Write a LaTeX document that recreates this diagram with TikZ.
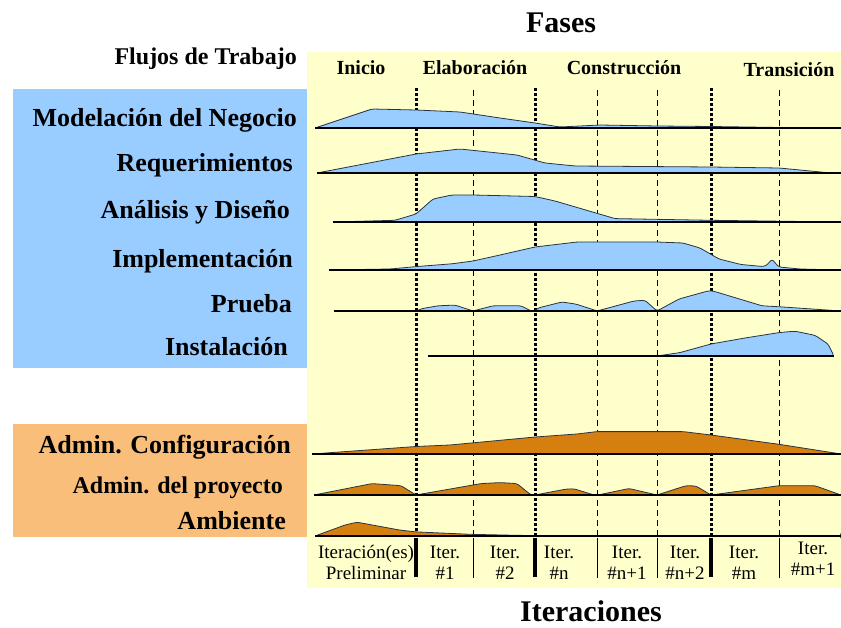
\documentclass[tikz,border=0pt]{standalone}
\usepackage{fontspec}
\setmainfont{Liberation Serif}
\definecolor{bgyellow}{HTML}{FFFFCC}
\definecolor{boxblue}{HTML}{99CCFF}
\definecolor{humpblue}{HTML}{99CCFF}
\definecolor{boxorange}{HTML}{F9BE7A}
\definecolor{humporange}{HTML}{D57F10}
\definecolor{humpline}{HTML}{2A3340}
\begin{document}
\begin{tikzpicture}[x=1pt,y=-1pt,
  lab/.style={font=\fontsize{26}{30}\selectfont\bfseries, anchor=base east, inner sep=0pt},
  phase/.style={font=\fontsize{20}{24}\selectfont\bfseries, anchor=base, inner sep=0pt},
  itr/.style={font=\fontsize{19}{22}\selectfont, anchor=base, inner sep=0pt},
  bigtitle/.style={font=\fontsize{30}{34}\selectfont\bfseries, anchor=base, inner sep=0pt},
  bhump/.style={fill=humpblue, draw=humpline, line width=0.8pt, rounded corners=2.5pt, line join=round},
  ohump/.style={fill=humporange, draw=humpline, line width=0.8pt, rounded corners=2.5pt, line join=round},
  baseln/.style={line width=1.4pt, black},
  phaseline/.style={line width=3pt, black, dash pattern=on 2.6pt off 2.4pt},
  iterline/.style={line width=0.8pt, black, dash pattern=on 6pt off 4pt},
  phasebar/.style={line width=3.5pt, black},
  iterbar/.style={line width=0.9pt, black}]
\useasboundingbox (0,0) rectangle (841,628);
\fill[white] (0,0) rectangle (841,628);
% backgrounds
\fill[bgyellow] (307,52) rectangle (841,588);
\fill[boxblue] (13,89) rectangle (307,368);
\fill[boxorange] (13,424) rectangle (307,537);
% vertical lines
\foreach \x in {416,535,711} \draw[phaseline] (\x,88) -- (\x,537);
\foreach \x in {473,597,657,779} \draw[iterline] (\x,90) -- (\x,537);
% row 1 Modelacion del Negocio
\begin{scope}[shift={(0,128)}]
\path[bhump] (315,0) -- (372,-19) -- (416,-18) -- (460,-16) -- (500,-10) -- (535,-5) -- (560,-1) -- (600,-3) -- (657,-2) -- (711,-1.5) -- (780,-0.5) -- (841,0) -- cycle;
\draw[baseln] (315,0) -- (841,0);
\end{scope}
% row 2 Requerimientos
\begin{scope}[shift={(0,173)}]
\path[bhump] (317,0) -- (416,-19) -- (460,-24) -- (517,-18) -- (545,-10) -- (575,-7) -- (711,-6) -- (779,-5) -- (831,0) -- cycle;
\draw[baseln] (317,0) -- (841,0);
\end{scope}
% row 3 Analisis y Diseno
\begin{scope}[shift={(0,222)}]
\path[bhump] (333,0) -- (395,-1.7) -- (416,-8) -- (433,-23) -- (452,-27) -- (473,-27) -- (535,-25.5) -- (555,-21) -- (615,-3.4) -- (711,-1.7) -- (841,0) -- cycle;
\draw[baseln] (333,0) -- (841,0);
\end{scope}
% row 4 Implementacion
\begin{scope}[shift={(0,270)}]
\path[bhump] (329,0) -- (390,-1) -- (416,-3.4) -- (452,-6.2) -- (473,-9) -- (500,-15) -- (535,-23) -- (577,-28) -- (657,-28) -- (683,-27) -- (700,-22) -- (719,-11) -- (741,-5.5) -- (764,-3.4) -- (768,-6) -- (772,-11) -- (776,-6) -- (779,-3) -- (800,-1) -- (841,0) -- cycle;
\draw[baseln] (329,0) -- (841,0);
\end{scope}
% row 5 Prueba
\begin{scope}[shift={(0,311)}]
\path[bhump] (416,0) -- (422,-2.4) -- (438,-5.2) -- (455,-5.9) -- (471,-0.7) -- (473,0) -- (493,-5.2) -- (521,-5.2) -- (531,0) -- (535,0) -- (538,-3) -- (562,-9) -- (576,-6.9) -- (593,-1.4) -- (597,0) -- (634,-10) -- (645,-10.7) -- (657,0) -- (679,-12) -- (709,-20.3) -- (714,-19.7) -- (762,-5.2) -- (783,-4) -- (841,0) -- cycle;
\draw[baseln] (334,0) -- (841,0);
\end{scope}
% row 6 Instalacion
\begin{scope}[shift={(0,356)}]
\path[bhump] (657,0) -- (680,-3.4) -- (711,-12) -- (745,-18) -- (779,-23.4) -- (795,-24.8) -- (815,-20.7) -- (828,-12) -- (834,0) -- cycle;
\draw[baseln] (428,0) -- (834,0);
\end{scope}
% row 7 Admin. Configuracion
\begin{scope}[shift={(0,454)}]
\path[ohump] (312,0) -- (416,-7.5) -- (450,-9) -- (514,-15) -- (535,-17) -- (577,-20) -- (597,-22.4) -- (683,-22.4) -- (711,-19) -- (779,-9.7) -- (841,0) -- cycle;
\draw[baseln] (312,0) -- (841,0);
\end{scope}
% row 8 Admin. del proyecto
\begin{scope}[shift={(0,495)}]
\path[ohump] (314,0) -- (372,-11.4) -- (401,-9.3) -- (416,0) -- (481,-11.4) -- (500,-12.4) -- (517,-11.4) -- (531,0) -- (535,0) -- (566,-5.9) -- (574,-6.2) -- (594,0) -- (598,0) -- (629,-6.5) -- (657,0) -- (686,-9.3) -- (696,-9) -- (711,0) -- (779,-9.3) -- (815,-9.3) -- (841,0) -- cycle;
\draw[baseln] (314,0) -- (841,0);
\end{scope}
% row 9 Ambiente
\begin{scope}[shift={(0,536)}]
\path[ohump] (315,0) -- (345,-11) -- (357,-13.8) -- (400,-5.9) -- (416,-4.1) -- (470,-1.7) -- (520,-0.6) -- (841,-0.5) -- (841,0) -- cycle;
\draw[baseln] (315,0) -- (841,0);
\end{scope}
% iteration row bars
\foreach \x in {416,535,711} \draw[phasebar] (\x,538) -- (\x,577);
\foreach \x in {473,597,657,779} \draw[iterbar] (\x,538) -- (\x,578);
% titles
\node[bigtitle] (fases) at (561,32.5) {Fases};
\node[bigtitle] (iteraciones) at (591,621) {Iteraciones};
\node[font=\fontsize{24}{28}\selectfont\bfseries, anchor=base east, inner sep=0pt] (flujos) at (297,65) {Flujos de Trabajo};
% phases
\node[phase] (inicio) at (361,74.3) {Inicio};
\node[phase] (elab) at (475,74.3) {Elaboración};
\node[phase] (constr) at (624,74.3) {Construcción};
\node[phase] (trans) at (789,76.7) {Transición};
% workflow labels
\node[lab] (l1) at (297,126.6) {Modelación del Negocio};
\node[lab] (l2) at (293,171.7) {Requerimientos};
\node[lab] (l3) at (290,219) {Análisis y Diseño};
\node[lab] (l4) at (293,268) {Implementación};
\node[lab] (l5) at (292,313) {Prueba};
\node[lab] (l6) at (288,355.5) {Instalación};
\node[lab] (l7) at (291,453) {Admin. Configuración};
\node[lab, font=\fontsize{24}{28}\selectfont\bfseries] (l8) at (283,493) {Admin. del proyecto};
\node[lab] (l9) at (286,529) {Ambiente};
% iterations
\node[itr] (i0a) at (366,558) {Iteración(es)};
\node[itr] (i0b) at (366,579) {Preliminar};
\node[itr] (i1a) at (445,558) {Iter.};
\node[itr] (i1b) at (445,579) {\#1};
\node[itr] (i2a) at (505,558) {Iter.};
\node[itr] (i2b) at (505,579) {\#2};
\node[itr] (i3a) at (559,558) {Iter.};
\node[itr] (i3b) at (559,579) {\#n};
\node[itr] (i4a) at (627,558) {Iter.};
\node[itr] (i4b) at (627,579) {\#n+1};
\node[itr] (i5a) at (685,558) {Iter.};
\node[itr] (i5b) at (685,579) {\#n+2};
\node[itr] (i6a) at (744,558) {Iter.};
\node[itr] (i6b) at (744,579) {\#m};
\node[itr] (i7a) at (813,554) {Iter.};
\node[itr] (i7b) at (813,575) {\#m+1};
\end{tikzpicture}
\end{document}
